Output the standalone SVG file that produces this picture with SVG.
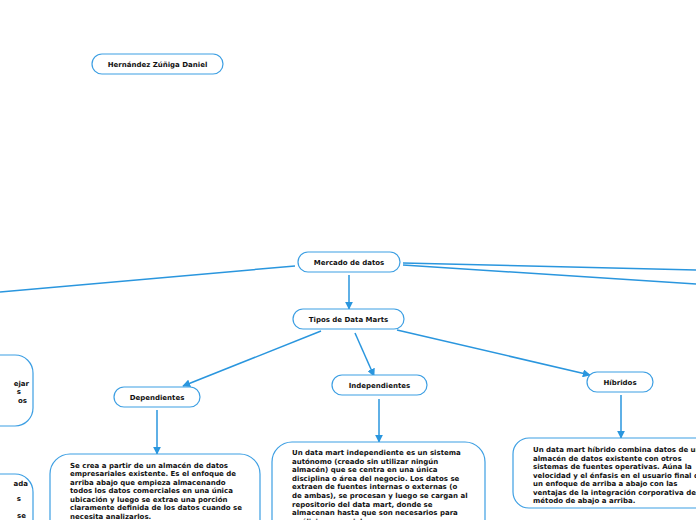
<svg xmlns="http://www.w3.org/2000/svg" width="696" height="520" viewBox="0 0 696 520">
<defs>
<style>
.box{fill:#ffffff;stroke:#3d9fe3;stroke-width:1.2}
.lbl{font-family:"DejaVu Sans",Verdana,sans-serif;font-weight:bold;font-size:7px;fill:#111111;text-anchor:middle}
.txt{font-family:"DejaVu Sans",Verdana,sans-serif;font-weight:bold;font-size:7px;fill:#111111}
.con{fill:none;stroke:#2a96de;stroke-width:1.5}
</style>
<marker id="arr" viewBox="0 0 10 10" refX="9" refY="5" markerWidth="8" markerHeight="8" markerUnits="userSpaceOnUse" orient="auto">
<path d="M0,0 L10,5 L0,10 Z" fill="#2a96de"/>
</marker>
</defs>
<g id="connectors">
<line class="con" x1="295" y1="266" x2="0" y2="292"/>
<line class="con" x1="403" y1="263" x2="696" y2="270"/>
<line class="con" x1="403" y1="265" x2="696" y2="284"/>
<line class="con" x1="349" y1="275" x2="349" y2="309" marker-end="url(#arr)"/>
<line class="con" x1="321" y1="331" x2="183" y2="386" marker-end="url(#arr)"/>
<line class="con" x1="355" y1="333" x2="374" y2="376" marker-end="url(#arr)"/>
<line class="con" x1="397" y1="330" x2="590" y2="375" marker-end="url(#arr)"/>
<line class="con" x1="157" y1="410" x2="157" y2="454" marker-end="url(#arr)"/>
<line class="con" x1="379" y1="399" x2="379" y2="442" marker-end="url(#arr)"/>
<line class="con" x1="621" y1="395" x2="621" y2="438" marker-end="url(#arr)"/>
</g>
<g id="author">
<rect class="box" x="92" y="54" width="131" height="20" rx="10"/>
<text class="lbl" x="157.5" y="66.5">Hernández Zúñiga Daniel</text>
</g>
<g id="mercado">
<rect class="box" x="298" y="252" width="102" height="20" rx="10"/>
<text class="lbl" x="349" y="264.5">Mercado de datos</text>
</g>
<g id="tipos">
<rect class="box" x="293" y="309" width="111" height="20" rx="10"/>
<text class="lbl" x="348.5" y="321.5">Tipos de Data Marts</text>
</g>
<g id="dependientes">
<rect class="box" x="114" y="387" width="86" height="20" rx="10"/>
<text class="lbl" x="157" y="399.5">Dependientes</text>
</g>
<g id="independientes">
<rect class="box" x="332" y="375" width="95" height="20" rx="10"/>
<text class="lbl" x="379.5" y="387.5">Independientes</text>
</g>
<g id="hibridos">
<rect class="box" x="587" y="372" width="66" height="20" rx="10"/>
<text class="lbl" x="620" y="384.5">Híbridos</text>
</g>
<g id="dependientes-desc">
<rect class="box" x="50" y="454" width="210" height="100" rx="20"/>
<text class="txt" x="70" y="467.5">Se crea a partir de un almacén de datos</text>
<text class="txt" x="70" y="476">empresariales existente. Es el enfoque de</text>
<text class="txt" x="70" y="484.5">arriba abajo que empieza almacenando</text>
<text class="txt" x="70" y="493">todos los datos comerciales en una única</text>
<text class="txt" x="70" y="501.5">ubicación y luego se extrae una porción</text>
<text class="txt" x="70" y="510">claramente definida de los datos cuando se</text>
<text class="txt" x="70" y="518.5">necesita analizarlos.</text>
</g>
<g id="independientes-desc">
<rect class="box" x="272" y="442" width="213" height="110" rx="20"/>
<text class="txt" x="292" y="455">Un data mart independiente es un sistema</text>
<text class="txt" x="292" y="463.6">autónomo (creado sin utilizar ningún</text>
<text class="txt" x="292" y="472.2">almacén) que se centra en una única</text>
<text class="txt" x="292" y="480.8">disciplina o área del negocio. Los datos se</text>
<text class="txt" x="292" y="489.4">extraen de fuentes internas o externas (o</text>
<text class="txt" x="292" y="498">de ambas), se procesan y luego se cargan al</text>
<text class="txt" x="292" y="506.6">repositorio del data mart, donde se</text>
<text class="txt" x="292" y="515.2">almacenan hasta que son necesarios para</text>
<text class="txt" x="292" y="523.8">análisis comerciales.</text>
</g>
<g id="hibridos-desc">
<rect class="box" x="513" y="438" width="230" height="70" rx="16"/>
<text class="txt" x="533" y="452">Un data mart híbrido combina datos de un</text>
<text class="txt" x="533" y="460.5">almacén de datos existente con otros</text>
<text class="txt" x="533" y="469">sistemas de fuentes operativas. Aúna la</text>
<text class="txt" x="533" y="477.5">velocidad y el énfasis en el usuario final de</text>
<text class="txt" x="533" y="486">un enfoque de arriba a abajo con las</text>
<text class="txt" x="533" y="494.5">ventajas de la integración corporativa del</text>
<text class="txt" x="533" y="503">método de abajo a arriba.</text>
</g>
<g id="left-node-1">
<rect class="box" x="-200" y="355" width="233" height="71" rx="18"/>
<text class="txt" x="29" y="385.5" text-anchor="end">ejar</text>
<text class="txt" x="21" y="394" text-anchor="end">s</text>
<text class="txt" x="27" y="402.5" text-anchor="end">os</text>
</g>
<g id="left-node-2">
<rect class="box" x="-200" y="474" width="233" height="80" rx="18"/>
<text class="txt" x="28" y="485.5" text-anchor="end">ada</text>
<text class="txt" x="21" y="500.5" text-anchor="end">s</text>
<text class="txt" x="26" y="517.5" text-anchor="end">se</text>
</g>
</svg>
